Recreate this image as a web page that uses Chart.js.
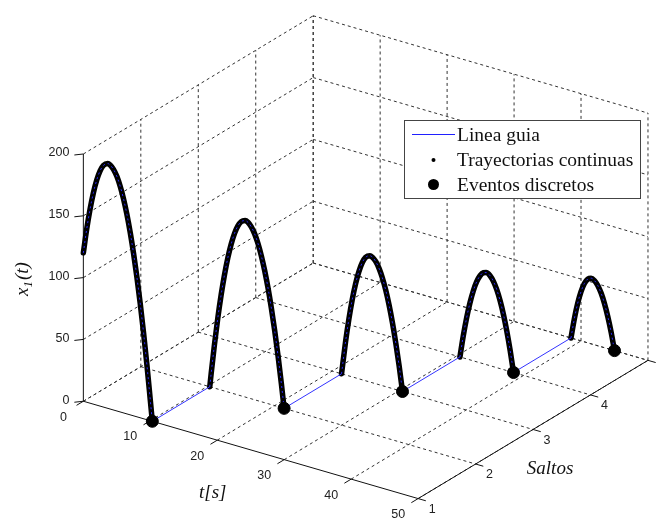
<!DOCTYPE html>
<html>
<head>
<meta charset="utf-8">
<script src="https://cdn.jsdelivr.net/npm/chart.js@4.4.1/dist/chart.umd.min.js"></script>
<style>
  html, body { margin: 0; padding: 0; background: #fff; }
  #wrap { position: relative; width: 663px; height: 527px; }
</style>
</head>
<body>
<div id="wrap"><canvas id="chart" width="663" height="527"></canvas></div>
<script>
// height x1(t) of each jump
const t1 = [0, 0.5, 1, 1.5, 2, 2.5, 3, 3.65, 4, 4.5, 5, 5.5, 6, 6.5, 7, 7.5, 8, 8.5, 9, 9.5, 10, 10.3];
const x1 = [120, 140, 156.9, 171, 182.1, 190.3, 195.5, 198, 197.4, 194.7, 189.8, 182.6, 173.2, 161.5, 147.5, 131.3, 112.9, 92.1, 69.2, 44, 16.6, 0];
const t2 = [10.3, 10.5, 11, 11.5, 12, 12.5, 13, 13.5, 14, 14.5, 15, 15.58, 16, 16.5, 17, 17.5, 18, 18.5, 19, 19.5, 20, 20.5, 21, 21.4];
const x2 = [0, 10.6, 35.3, 57.5, 77.1, 94.1, 108.6, 120.5, 129.9, 136.7, 141, 142.7, 142, 139.1, 134.2, 127.2, 118, 106.8, 93.5, 78, 60.4, 40.8, 19, 0];
const t3 = [21.4, 22, 22.5, 23, 23.5, 24, 24.5, 25, 25.63, 26, 26.5, 27, 27.5, 28, 28.5, 29, 29.5, 30, 30.5];
const x3 = [0, 27, 46.2, 62.7, 76.3, 87, 94.9, 99.9, 102.2, 101.6, 98.9, 94.1, 87.1, 78, 66.7, 53.2, 37.6, 19.9, 0];
const t4 = [30.5, 31, 31.5, 32, 32.5, 33, 33.5, 34, 34.4, 35, 35.5, 36, 36.5, 37, 37.5, 38, 38.5];
const x4 = [0, 17.9, 33.3, 46.2, 56.7, 64.8, 70.4, 73.6, 74.4, 72.8, 69, 63.1, 54.9, 44.5, 31.8, 17, 0];
const t5 = [38.5, 39, 39.5, 40, 40.5, 41, 41.5, 42, 42.5, 43, 43.5, 44, 44.5, 45];
const x5 = [0, 16.2, 29.5, 39.8, 47.2, 51.6, 53.1, 52, 48.8, 43.4, 35.8, 26, 14.1, 0];
const saltos = [1, 2, 3, 4, 5];

// discrete events (impacts)
const eventT = [10.3, 21.4, 30.5, 38.5, 45];
const eventX = [0, 0, 0, 0, 0];

// axes
const tTicks = [0, 10, 20, 30, 40, 50];
const sTicks = [1, 2, 3, 4, 5];
const zTicks = [0, 50, 100, 150, 200];

// 3D view -> 2D (orthographic, same units as the hidden scales)
const view = { ox: 78, oy: 405, tx: 6.84, ty: 2.0, sx: 58.7, sy: -35.5, zy: -1.27 };
function project(t, s, z) {
    return {
        x: view.ox + t * view.tx + (s - 1) * view.sx,
        y: view.oy + t * view.ty + (s - 1) * view.sy + z * view.zy
    };
}

const jumps = [[t1, x1], [t2, x2], [t3, x3], [t4, x4], [t5, x5]];
const datasets = [];
jumps.forEach(([ts, xs], k) => {
    const pts = ts.map((t, i) => project(t, saltos[k], xs[i]));
    datasets.push({
        label: 'Trayectorias continuas', data: pts, showLine: true,
        borderColor: '#000', borderWidth: 5.5, borderCapStyle: 'round',
        pointRadius: 0, cubicInterpolationMode: 'monotone', order: 3
    });
    datasets.push({
        label: 'Linea guia', data: pts, showLine: true,
        borderColor: '#2a2aff', borderWidth: 1, borderDash: [2, 3],
        pointRadius: 0, cubicInterpolationMode: 'monotone', order: 2
    });
    if (k < jumps.length - 1) {
        datasets.push({
            label: 'Linea guia', showLine: true, borderColor: '#3333ff', borderWidth: 1, pointRadius: 0, order: 2,
            data: [project(eventT[k], saltos[k], 0), project(eventT[k], saltos[k + 1], 0)]
        });
    }
});
datasets.push({
    label: 'Eventos discretos',
    data: eventT.map((t, k) => project(t, saltos[k], eventX[k])),
    pointRadius: 6, pointBackgroundColor: '#000', pointBorderColor: '#000', order: 1
});

const sansFont = '12.5px "Liberation Sans", Arial, sans-serif';
const serifFont = '"Liberation Serif", "Times New Roman", serif';

const box3d = {
    id: 'box3d',
    beforeDatasetsDraw(chart) {
        const { ctx, scales: { x, y } } = chart;
        const P = (t, s, z) => { const p = project(t, s, z); return [x.getPixelForValue(p.x), y.getPixelForValue(p.y)]; };
        const seg = (a, b) => { ctx.beginPath(); ctx.moveTo(a[0], a[1]); ctx.lineTo(b[0], b[1]); ctx.stroke(); };
        const tMax = tTicks[tTicks.length - 1], sMax = sTicks[sTicks.length - 1], zMax = zTicks[zTicks.length - 1];
        ctx.save();
        // dashed grid on floor and back walls
        ctx.strokeStyle = '#333';
        ctx.lineWidth = 1;
        ctx.setLineDash([3, 3]);
        tTicks.forEach(t => { seg(P(t, 1, 0), P(t, sMax, 0)); seg(P(t, sMax, 0), P(t, sMax, zMax)); });
        sTicks.slice(1).forEach(s => { seg(P(0, s, 0), P(tMax, s, 0)); seg(P(0, s, 0), P(0, s, zMax)); });
        zTicks.forEach(z => { seg(P(0, 1, z), P(0, sMax, z)); seg(P(0, sMax, z), P(tMax, sMax, z)); });
        // solid axes
        ctx.setLineDash([]);
        ctx.strokeStyle = '#111';
        seg(P(0, 1, 0), P(0, 1, zMax));
        seg(P(0, 1, 0), P(tMax, 1, 0));
        seg(P(tMax, 1, 0), P(tMax, sMax, 0));
        // ticks and labels
        ctx.fillStyle = '#222';
        ctx.font = sansFont;
        ctx.textBaseline = 'middle';
        ctx.textAlign = 'right';
        zTicks.forEach(z => {
            const p = P(0, 1, z);
            seg(p, [p[0] - 9, p[1] + 1]);
            ctx.fillText(String(z), p[0] - 14, p[1] - 1);
        });
        ctx.textAlign = 'center';
        tTicks.forEach(t => {
            const p = P(t, 1, 0);
            seg(p, [p[0] - 6.8, p[1] + 4.1]);
            ctx.fillText(String(t), p[0] - 20, p[1] + 16);
        });
        sTicks.forEach(s => {
            const p = P(tMax, s, 0);
            seg(p, [p[0] + 7.7, p[1] + 2.2]);
            const w = ctx.measureText(String(s)).width;
            if (p[0] + 14 + w / 2 <= chart.width) ctx.fillText(String(s), p[0] + 14, p[1] + 11);
        });
        // axis titles
        ctx.fillStyle = '#111';
        ctx.font = 'italic 19px ' + serifFont;
        const tm = P(tMax / 2, 1, 0);
        ctx.fillText('t[s]', tm[0] - 38, tm[1] + 43);
        const sm = P(tMax, 3, 0);
        ctx.fillText('Saltos', sm[0] + 17, sm[1] + 40);
        // x1(t), rotated
        const zm = P(0, 1, zMax / 2);
        ctx.save();
        ctx.translate(zm[0] - 61, zm[1] + 2);
        ctx.rotate(-Math.PI / 2);
        ctx.textAlign = 'left';
        ctx.textBaseline = 'alphabetic';
        const big = 'italic 19px ' + serifFont, small = 'italic 13px ' + serifFont;
        ctx.font = big; const wx = ctx.measureText('x').width;
        ctx.font = small; const w1 = ctx.measureText('1').width;
        ctx.font = big; const wp = ctx.measureText('(t)').width;
        let cx = -(wx + w1 + wp) / 2;
        ctx.fillText('x', cx, 6); cx += wx;
        ctx.font = small; ctx.fillText('1', cx, 10); cx += w1 + 1;
        ctx.font = big; ctx.fillText('(t)', cx, 6);
        ctx.restore();
        ctx.restore();
    },
    afterDraw(chart) {
        const ctx = chart.ctx;
        ctx.save();
        ctx.fillStyle = '#fff';
        ctx.fillRect(404, 120, 237, 79);
        ctx.strokeStyle = '#444';
        ctx.lineWidth = 1;
        ctx.strokeRect(404.5, 120.5, 236, 78);
        ctx.strokeStyle = '#2020ff';
        ctx.beginPath(); ctx.moveTo(412, 134.5); ctx.lineTo(455, 134.5); ctx.stroke();
        ctx.fillStyle = '#000';
        ctx.beginPath(); ctx.arc(433.5, 160, 2, 0, Math.PI * 2); ctx.fill();
        ctx.beginPath(); ctx.arc(433.5, 184.5, 5.5, 0, Math.PI * 2); ctx.fill();
        ctx.font = '19.5px ' + serifFont;
        ctx.textAlign = 'left';
        ctx.textBaseline = 'alphabetic';
        ctx.fillStyle = '#111';
        ctx.fillText('Linea guia', 457, 140.5);
        ctx.fillText('Trayectorias continuas', 457, 166);
        ctx.fillText('Eventos discretos', 457, 191);
        ctx.restore();
    }
};

new Chart(document.getElementById('chart'), {
    type: 'scatter',
    data: { datasets },
    options: {
        responsive: false,
        animation: false,
        events: [],
        layout: { padding: 0 },
        plugins: { legend: { display: false }, tooltip: { enabled: false } },
        scales: {
            x: { type: 'linear', min: 0, max: 663, display: false },
            y: { type: 'linear', min: 0, max: 527, reverse: true, display: false }
        }
    },
    plugins: [box3d]
});
</script>
</body>
</html>
